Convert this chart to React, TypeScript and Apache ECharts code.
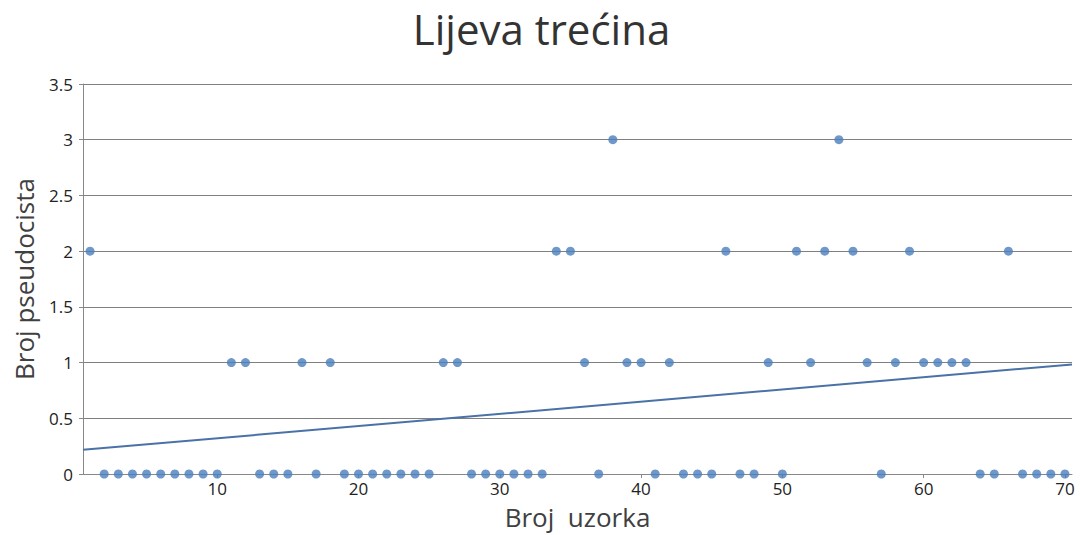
import React, { useEffect, useRef } from "react";
import * as echarts from "echarts";

const sampleNumbers: number[] = Array.from({ length: 70 }, (_, i) => i + 1);
const pseudocystCounts: number[] = [
  2, 0, 0, 0, 0, 0, 0, 0, 0, 0,
  1, 1, 0, 0, 0, 1, 0, 1, 0, 0,
  0, 0, 0, 0, 0, 1, 1, 0, 0, 0,
  0, 0, 0, 2, 2, 1, 0, 3, 1, 1,
  0, 1, 0, 0, 0, 2, 0, 0, 1, 0,
  2, 1, 2, 3, 2, 1, 0, 1, 2, 1,
  1, 1, 1, 0, 0, 2, 0, 0, 0, 0,
];
const xTicks: number[] = [10, 20, 30, 40, 50, 60, 70];
const xRange: number[] = [0.5, 70.5];

function linearFit(xs: number[], ys: number[]) {
  const n = xs.length;
  const mx = xs.reduce((a, b) => a + b, 0) / n;
  const my = ys.reduce((a, b) => a + b, 0) / n;
  let sxy = 0;
  let sxx = 0;
  for (let i = 0; i < n; i++) {
    sxy += (xs[i] - mx) * (ys[i] - my);
    sxx += (xs[i] - mx) * (xs[i] - mx);
  }
  const slope = sxy / sxx;
  return { slope, intercept: my - slope * mx };
}

export default function App() {
  const ref = useRef<HTMLDivElement>(null);
  useEffect(() => {
    document.body.style.margin = "0";
    if (!ref.current) return;
    const chart = echarts.init(ref.current, undefined, { renderer: "svg" });
    const fit = linearFit(sampleNumbers, pseudocystCounts);
    const trend = xRange.map((x) => [x, fit.intercept + fit.slope * x]);
    const font = "'Open Sans', 'Noto Sans', sans-serif";
    chart.setOption({
      animation: false,
      backgroundColor: "#ffffff",
      title: {
        text: "Lijeva trećina",
        left: "center",
        top: 2,
        textStyle: {
          fontFamily: font,
          fontSize: 42,
          fontWeight: "normal",
          color: "#333333",
        },
      },
      grid: { left: 83, right: 11, top: 84, bottom: 61 },
      xAxis: {
        type: "value",
        min: xRange[0],
        max: xRange[1],
        name: "Broj  uzorka",
        nameLocation: "middle",
        nameGap: 30,
        nameTextStyle: { fontFamily: font, fontSize: 26, color: "#404040" },
        splitLine: { show: false },
        axisLine: { show: true, lineStyle: { color: "#888888", width: 1 } },
        axisTick: {
          show: true,
          length: 4,
          customValues: xTicks,
          lineStyle: { color: "#888888" },
        },
        axisLabel: {
          customValues: xTicks,
          fontFamily: font,
          fontSize: 17,
          color: "#222222",
          margin: 6,
        },
      },
      yAxis: {
        type: "value",
        min: 0,
        max: 3.5,
        interval: 0.5,
        name: "Broj pseudocista",
        nameLocation: "middle",
        nameGap: 46,
        nameTextStyle: { fontFamily: font, fontSize: 26, color: "#404040" },
        axisLine: { show: true, lineStyle: { color: "#888888", width: 1 } },
        axisTick: { show: true, length: 4, lineStyle: { color: "#888888" } },
        splitLine: { show: true, lineStyle: { color: "#808080", width: 1 } },
        axisLabel: {
          fontFamily: font,
          fontSize: 17,
          color: "#222222",
          margin: 10,
        },
      },
      series: [
        {
          type: "scatter",
          data: sampleNumbers.map((x, i) => [x, pseudocystCounts[i]]),
          symbolSize: 9,
          itemStyle: { color: "#4a7ebb" },
          clip: false,
          z: 3,
        },
        {
          type: "line",
          data: trend,
          symbol: "none",
          lineStyle: { color: "#4a72a6", width: 2 },
          z: 2,
        },
      ],
    });
    return () => chart.dispose();
  }, []);
  return <div ref={ref} style={{ width: 1083, height: 535 }} />;
}
